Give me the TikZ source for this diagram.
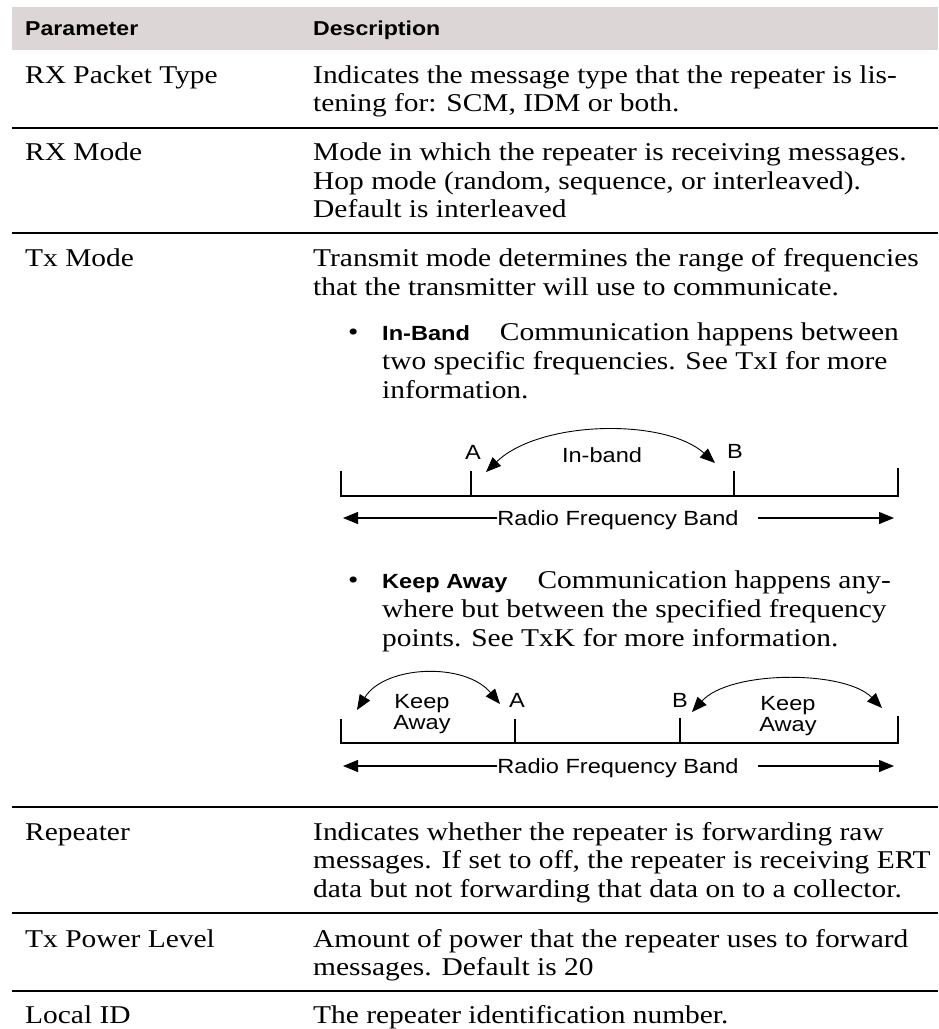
\documentclass[tikz,border=0pt]{standalone}
\usepackage{fontspec}
\setmainfont{Liberation Serif}[FakeStretch=1.15]
\setsansfont{Liberation Sans}[FakeStretch=1.15]
\usetikzlibrary{arrows.meta,calc}
\definecolor{headfill}{RGB}{221,214,214}
\newcommand{\kw}[1]{{\sffamily\bfseries\fontsize{20.5}{28.5}\selectfont #1}}

\begin{document}
\begin{tikzpicture}[x=1pt,y=1pt,yscale=-1,
	body/.style={anchor=base west,inner sep=0pt,align=left,font=\fontsize{25.6}{28.5}\selectfont},
	bodyb/.style={body,font=\fontsize{25.6}{29.3}\selectfont},
	head/.style={anchor=base west,inner sep=0pt,font=\sffamily\bfseries\fontsize{20.1}{22}\selectfont},
	lbl/.style={anchor=base,inner sep=0pt,align=center,font=\sffamily\fontsize{20.5}{20.5}\selectfont},
	rule/.style={line width=1.3pt},
	tick/.style={line width=1.2pt},
	band/.style={line width=1.2pt,-{Triangle[length=15pt,width=12pt]}},
	hop/.style={line width=0.9pt,{Triangle[length=15pt,width=12pt]}-{Triangle[length=15pt,width=12pt]}}]
	\useasboundingbox (0,0) rectangle (938,1029);
	% multi-line text nodes are placed at the baseline of their last line
	
	%Shape: Rectangle [header]
	\fill[headfill] (12,7) rectangle (938,50);
	% Text Node
	\node[head] (hpar) at (25,35.5) {Parameter};
	% Text Node
	\node[head] (hdesc) at (313,35.5) {Description};
	
	% Text Node
	\node[body] (p1) at (25,83) {RX Packet Type};
	% Text Node
	\node[body] (d1) at (313,111.5) {Indicates the message type that the repeater is lis-\\tening for: SCM, IDM or both.};
	%Straight Lines
	\draw[rule] (12,128) -- (938,128);
	
	% Text Node
	\node[body] (p2) at (25,160.5) {RX Mode};
	% Text Node
	\node[body] (d2) at (313,217.5) {Mode in which the repeater is receiving messages.\\Hop mode (random, sequence, or interleaved).\\Default is interleaved};
	%Straight Lines
	\draw[rule] (12,233) -- (938,233);
	
	% Text Node
	\node[body] (p3) at (25,266.5) {Tx Mode};
	% Text Node
	\node[body] (d3) at (313,295) {Transmit mode determines the range of frequencies\\that the transmitter will use to communicate.};
	% Text Node
	\node[body] (bul1) at (348,340) {•};
	% Text Node
	\node[bodyb] (d3a) at (382,398.6) {\kw{In-Band}\hspace{30pt}Communication happens between\\two specific frequencies. See TxI for more\\information.};
	
	%In-band diagram
	\coordinate (t1a) at (341,470.5);
	\coordinate (t1b) at (471,470.5);
	\coordinate (t1c) at (734,470.5);
	\coordinate (t1d) at (898,468);
	\draw[tick] (t1a) -- (t1a |- 0,496) -- (t1d |- 0,496) -- (t1d);
	\draw[tick] (t1b) -- (t1b |- 0,496);
	\draw[tick] (t1c) -- (t1c |- 0,496);
	\node[lbl] (a1) at (473,459) {A};
	\node[lbl] (b1) at (735,458) {B};
	\node[lbl] (in1) at (602,462) {In-band};
	\coordinate (ha1) at (486,472);
	\coordinate (hb1) at (715,463);
	%Curve Lines
	\draw[hop] (ha1) .. controls (540,420) and (665,418) .. (hb1);
	\node[lbl] (rfb1) at (618,525) {Radio Frequency Band};
	\coordinate (l1) at (343,518);
	\coordinate (r1) at (894,518);
	\draw[band] (rfb1.west |- l1) -- (l1);
	\draw[band] ($(rfb1.east |- r1)+(19,0)$) -- (r1);
	
	% Text Node
	\node[body] (bul2) at (348,588) {•};
	% Text Node
	\node[bodyb] (d3b) at (382,646.6) {\kw{Keep Away}\hspace{30pt}Communication happens any-\\where but between the specified frequency\\points. See TxK for more information.};
	
	%Keep away diagram
	\coordinate (t2a) at (341,719);
	\coordinate (t2b) at (515,719);
	\coordinate (t2c) at (680,718);
	\coordinate (t2d) at (898,716);
	\draw[tick] (t2a) -- (t2a |- 0,743) -- (t2d |- 0,743) -- (t2d);
	\draw[tick] (t2b) -- (t2b |- 0,743);
	\draw[tick] (t2c) -- (t2c |- 0,743);
	\node[lbl] (a2) at (517,707) {A};
	\node[lbl] (b2) at (680,707) {B};
	\node[lbl] (k2a) at (422,729) {Keep\\Away};
	\node[lbl] (k2b) at (788,731) {Keep\\Away};
	\coordinate (ha2) at (357,710);
	\coordinate (hb2) at (500,704);
	\coordinate (hc2) at (692,712);
	\coordinate (hd2) at (882,708);
	%Curve Lines
	\draw[hop] (ha2) .. controls (385,665) and (465,662) .. (hb2);
	%Curve Lines
	\draw[hop] (hc2) .. controls (730,670) and (845,670) .. (hd2);
	\node[lbl] (rfb2) at (618,773) {Radio Frequency Band};
	\coordinate (l2) at (343,766);
	\coordinate (r2) at (894,766);
	\draw[band] (rfb2.west |- l2) -- (l2);
	\draw[band] ($(rfb2.east |- r2)+(19,0)$) -- (r2);
	%Straight Lines
	\draw[rule] (12,807) -- (938,807);
	
	% Text Node
	\node[body] (p4) at (25,840) {Repeater};
	% Text Node
	\node[body] (d4) at (313,897) {Indicates whether the repeater is forwarding raw\\messages. If set to off, the repeater is receiving ERT\\data but not forwarding that data on to a collector.};
	%Straight Lines
	\draw[rule] (12,913) -- (938,913);
	
	% Text Node
	\node[body] (p5) at (25,947) {Tx Power Level};
	% Text Node
	\node[body] (d5) at (313,975.5) {Amount of power that the repeater uses to forward\\messages. Default is 20};
	%Straight Lines
	\draw[rule] (12,991) -- (938,991);
	
	% Text Node
	\node[body] (p6) at (25,1023) {Local ID};
	% Text Node
	\node[body] (d6) at (313,1023) {The repeater identification number.};
	
\end{tikzpicture}
\end{document}
